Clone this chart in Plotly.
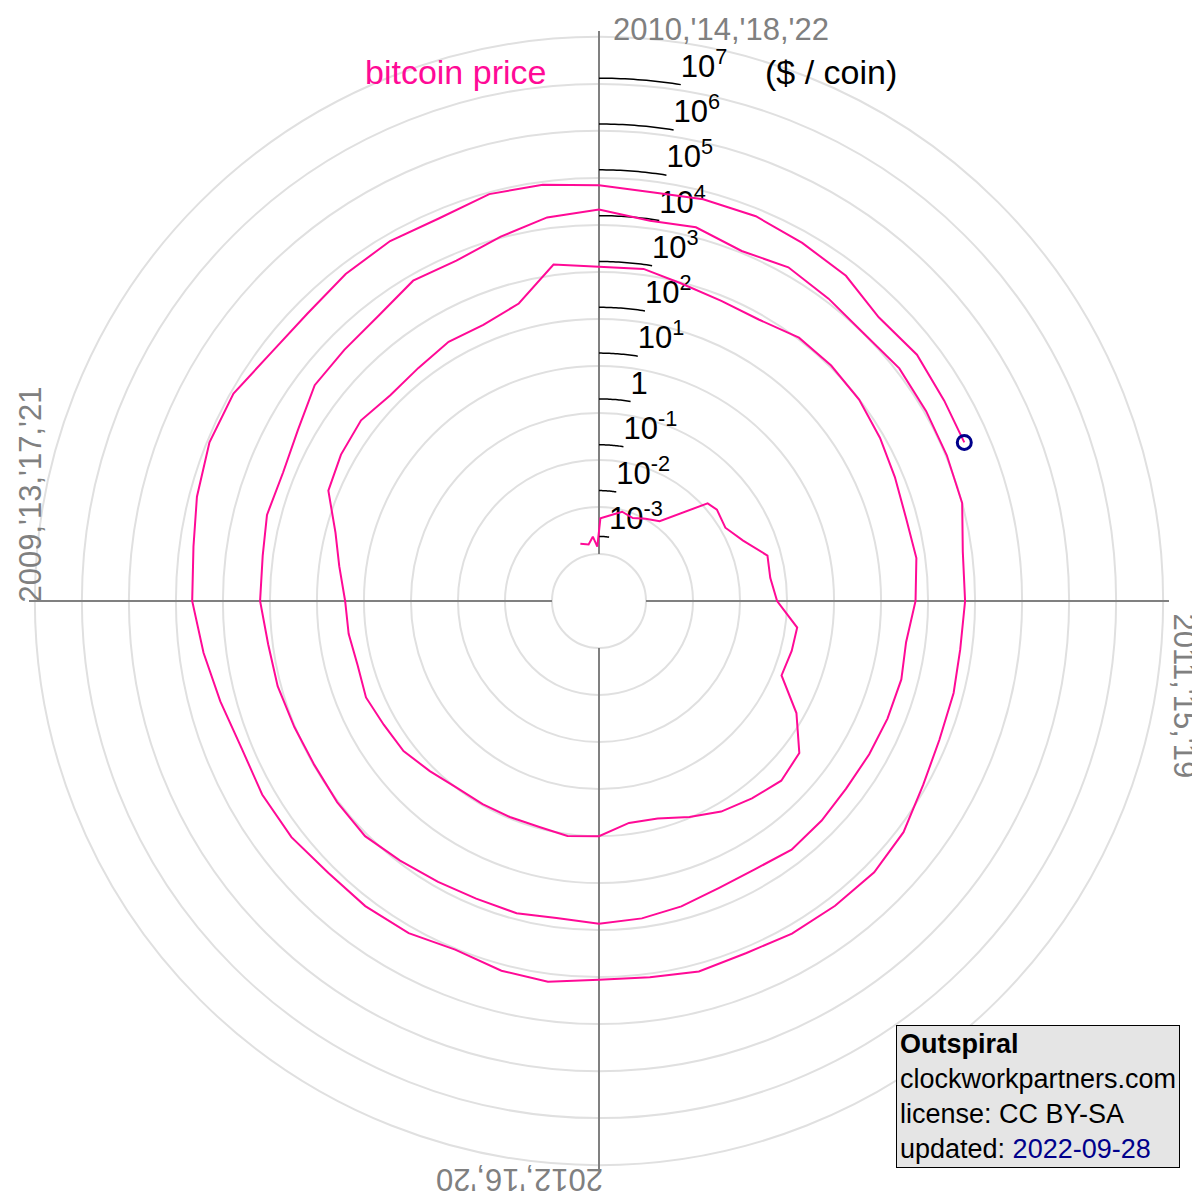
import numpy as np
import pandas as pd
import plotly.graph_objects as go

# approximate bitcoin price (USD / coin), read off the spiral
dates = [
    "2009-10-20", "2009-11-20", "2009-12-10", "2009-12-25",
    "2010-01-05", "2010-02-01", "2010-03-01", "2010-04-01", "2010-05-01", "2010-06-01",
    "2010-07-15", "2010-08-01", "2010-09-01", "2010-10-01", "2010-11-01", "2010-12-01",
    "2011-01-01", "2011-02-01", "2011-03-01", "2011-04-01", "2011-05-01", "2011-06-01",
    "2011-07-01", "2011-08-01", "2011-09-01", "2011-10-01", "2011-11-01", "2011-12-01",
    "2012-01-01", "2012-02-01", "2012-03-01", "2012-04-01", "2012-05-01", "2012-06-01",
    "2012-07-01", "2012-08-01", "2012-09-01", "2012-10-01", "2012-11-01", "2012-12-01",
    "2013-01-01", "2013-02-01", "2013-03-01", "2013-04-01", "2013-05-01", "2013-06-01",
    "2013-07-01", "2013-08-01", "2013-09-01", "2013-10-01", "2013-11-01", "2013-12-01",
    "2014-01-01", "2014-02-01", "2014-03-01", "2014-04-01", "2014-05-01", "2014-06-01",
    "2014-07-01", "2014-08-01", "2014-09-01", "2014-10-01", "2014-11-01", "2014-12-01",
    "2015-01-01", "2015-02-01", "2015-03-01", "2015-04-01", "2015-05-01", "2015-06-01",
    "2015-07-01", "2015-08-01", "2015-09-01", "2015-10-01", "2015-11-01", "2015-12-01",
    "2016-01-01", "2016-02-01", "2016-03-01", "2016-04-01", "2016-05-01", "2016-06-01",
    "2016-07-01", "2016-08-01", "2016-09-01", "2016-10-01", "2016-11-01", "2016-12-01",
    "2017-01-01", "2017-02-01", "2017-03-01", "2017-04-01", "2017-05-01", "2017-06-01",
    "2017-07-01", "2017-08-01", "2017-09-01", "2017-10-01", "2017-11-01", "2017-12-01",
    "2018-01-01", "2018-02-01", "2018-03-01", "2018-04-01", "2018-05-01", "2018-06-01",
    "2018-07-01", "2018-08-01", "2018-09-01", "2018-10-01", "2018-11-01", "2018-12-01",
    "2019-01-01", "2019-02-01", "2019-03-01", "2019-04-01", "2019-05-01", "2019-06-01",
    "2019-07-01", "2019-08-01", "2019-09-01", "2019-10-01", "2019-11-01", "2019-12-01",
    "2020-01-01", "2020-02-01", "2020-03-01", "2020-04-01", "2020-05-01", "2020-06-01",
    "2020-07-01", "2020-08-01", "2020-09-01", "2020-10-01", "2020-11-01", "2020-12-01",
    "2021-01-01", "2021-02-01", "2021-03-01", "2021-04-01", "2021-05-01", "2021-06-01",
    "2021-07-01", "2021-08-01", "2021-09-01", "2021-10-01", "2021-11-01", "2021-12-01",
    "2022-01-01", "2022-02-01", "2022-03-01", "2022-04-01", "2022-05-01", "2022-06-01",
    "2022-07-01", "2022-08-01", "2022-09-01", "2022-09-28",
]
prices = [
    0.0008, 0.0007, 0.0010, 0.0006,
    0.0025, 0.0030, 0.0040, 0.0035, 0.0045, 0.0060,
    0.06, 0.07, 0.06, 0.10, 0.25, 0.23,
    0.30, 0.90, 0.86, 0.78, 3.5, 12,
    15, 11, 8, 5, 3.2, 3.0,
    5.3, 5.8, 4.9, 4.9, 5.0, 5.2,
    6.7, 9.3, 10.2, 12.4, 11, 12.6,
    13.5, 20.4, 34, 93, 116, 129,
    97, 106, 135, 133, 206, 1000,
    770, 800, 560, 460, 450, 640,
    640, 590, 480, 390, 340, 380,
    315, 225, 255, 245, 235, 230,
    260, 285, 230, 238, 312, 380,
    430, 370, 435, 415, 450, 535,
    675, 625, 575, 610, 700, 745,
    970, 990, 1190, 1080, 1400, 2400,
    2490, 2860, 4700, 4400, 6700, 10900,
    13600, 9200, 10400, 6900, 9200, 7500,
    6400, 7600, 7000, 6600, 6300, 4000,
    3800, 3500, 3850, 4100, 5300, 8600,
    10600, 10100, 9600, 8300, 9200, 7500,
    7200, 9400, 8600, 6600, 8800, 9500,
    9200, 11300, 11700, 10600, 13800, 19700,
    29400, 33100, 45200, 58900, 57800, 36700,
    33500, 41500, 47100, 43800, 61300, 57000,
    46300, 38500, 44400, 45500, 37700, 31800,
    19300, 23300, 20000, 19100,
]
decade_exps = [-3, -2, -1, 0, 1, 2, 3, 4, 5, 6, 7]
quarter_labels = ["2010,'14,'18,'22", "2011,'15,'19", "2012,'16,'20", "2009,'13,'17,'21"]

PINK = "#ff0a96"
GRAY = "#808080"

t = pd.to_datetime(dates)
yrs = t.year + (t.dayofyear - 1) / 365.25
theta = (yrs - 2010) * 90.0  # one turn per 4 years, clockwise from top
r = np.log10(prices)

r0 = -4.41          # log10 price at the centre
step = 1.026        # grid ring spacing in decades
r_max = 8.03
rings = [r0 + step * k for k in range(1, 13)]

fig = go.Figure()

# cross axes with a gap in the hole
for a in [0, 90, 180, 270]:
    fig.add_trace(go.Scatterpolar(r=[rings[0], r_max], theta=[a, a], mode="lines",
                                  line=dict(color=GRAY, width=2), hoverinfo="skip",
                                  showlegend=False))

# decade tick arcs and labels
for e in decade_exps:
    arc = np.linspace(0, 9, 20)
    fig.add_trace(go.Scatterpolar(r=[e] * len(arc), theta=arc, mode="lines",
                                  line=dict(color="black", width=1.5), hoverinfo="skip",
                                  showlegend=False))
    lab = "1" if e == 0 else f"10<sup>{e}</sup>"
    fig.add_trace(go.Scatterpolar(r=[e], theta=[9], mode="text", text=[lab],
                                  textposition="top right",
                                  textfont=dict(family="Liberation Sans", size=31, color="black"),
                                  hoverinfo="skip", showlegend=False))

fig.add_trace(go.Scatterpolar(r=r, theta=theta, mode="lines",
                              line=dict(color=PINK, width=2), showlegend=False))
fig.add_trace(go.Scatterpolar(r=[r[-1]], theta=[theta[-1]], mode="markers",
                              marker=dict(size=14, color="rgba(0,0,0,0)",
                                          line=dict(color="#00008b", width=3)),
                              showlegend=False))

fig.update_layout(
    width=1200, height=1200,
    margin=dict(l=0, r=0, t=0, b=0),
    paper_bgcolor="white",
    font=dict(family="Liberation Sans"),
    polar=dict(
        domain=dict(x=[21 / 1200, 1161 / 1200], y=[37 / 1200, 1177 / 1200]),
        bgcolor="white",
        radialaxis=dict(range=[r0, r_max], tickvals=rings, showticklabels=False,
                        ticks="", showline=False, gridcolor="#e0e0e0", gridwidth=1.5),
        angularaxis=dict(rotation=90, direction="clockwise", showgrid=False,
                         showline=False, ticks="", showticklabels=False),
    ),
)

ann = [
    dict(x=603, y=2, text=quarter_labels[0], xanchor="left", yanchor="top", textangle=0),
    dict(x=1176, y=603, text=quarter_labels[1], xanchor="center", yanchor="top", textangle=90),
    dict(x=597, y=1172, text=quarter_labels[2], xanchor="right", yanchor="middle", textangle=180),
    dict(x=2, y=597, text=quarter_labels[3], xanchor="left", yanchor="bottom", textangle=-90),
]
for a in ann:
    fig.add_annotation(x=a["x"] / 1200, y=1 - a["y"] / 1200, xref="paper", yref="paper",
                       text=a["text"], xanchor=a["xanchor"], yanchor=a["yanchor"],
                       textangle=a["textangle"], showarrow=False,
                       font=dict(size=31, color=GRAY))

fig.add_annotation(x=355 / 1200, y=1 - 64 / 1200, xref="paper", yref="paper",
                   text="bitcoin price", showarrow=False, yanchor="middle",
                   font=dict(size=34, color=PINK))
fig.add_annotation(x=755 / 1200, y=1 - 64 / 1200, xref="paper", yref="paper",
                   text="($ / coin)", showarrow=False, xanchor="left", yanchor="middle",
                   font=dict(size=34, color="black"))
fig.add_annotation(x=888 / 1200, y=1 - 1160 / 1200, xref="paper", yref="paper",
                   text="<b>Outspiral</b><br>clockworkpartners.com<br>license: CC BY-SA<br>"
                        "updated: <span style='color:#00008b'>2022-09-28</span>",
                   showarrow=False, xanchor="left", yanchor="bottom", align="left",
                   bgcolor="#e5e5e5", bordercolor="black", borderwidth=1, borderpad=3,
                   font=dict(size=27, color="black"))

fig.write_html("out.html")
